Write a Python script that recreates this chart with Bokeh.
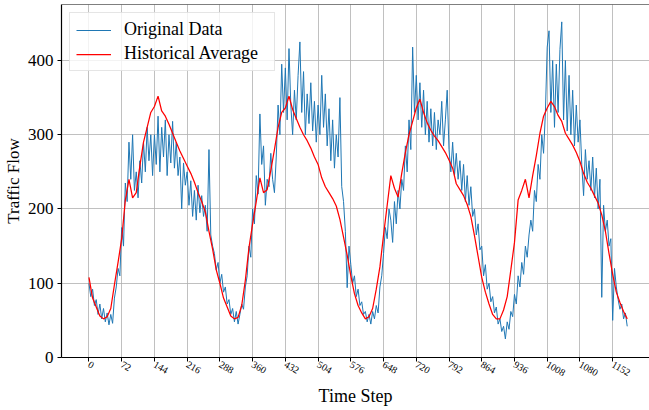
import math
from bokeh.plotting import figure
from bokeh.models import Range1d, FixedTicker, Span
from bokeh.embed import file_html
from bokeh.resources import INLINE

# ---- data ----
blue_step = 4   # time steps between consecutive original_data samples
original_data = [
    100, 82, 92, 70, 78, 58, 72, 52, 66, 48, 60, 44, 58, 46, 80, 95, 120, 110,
    175, 150, 235, 210, 290, 240, 300, 225, 250, 215, 265, 235, 290, 250, 310, 265, 300, 245,
    300, 260, 325, 250, 310, 270, 320, 245, 300, 262, 318, 255, 290, 245, 270, 200, 262, 232,
    250, 205, 238, 190, 225, 185, 232, 195, 218, 190, 205, 170, 280, 165, 150, 140, 118, 128,
    100, 112, 88, 95, 72, 78, 58, 66, 48, 62, 45, 58, 72, 65, 95, 110, 150, 135,
    200, 180, 245, 220, 328, 260, 285, 205, 240, 230, 275, 240, 222, 270, 340, 300, 395, 330,
    390, 320, 416, 340, 300, 360, 320, 380, 425, 330, 385, 300, 355, 315, 370, 305, 345, 290,
    340, 300, 380, 310, 355, 285, 335, 265, 320, 255, 300, 270, 350, 230, 210, 170, 94, 150,
    125, 100, 110, 82, 92, 70, 75, 58, 62, 48, 58, 45, 62, 52, 70, 60, 95, 110,
    140, 175, 160, 200, 185, 155, 210, 180, 225, 200, 240, 225, 285, 250, 320, 280, 418, 330,
    380, 320, 370, 310, 360, 300, 345, 290, 335, 285, 330, 280, 320, 300, 345, 285, 320, 360,
    280, 250, 290, 245, 275, 240, 265, 225, 260, 210, 245, 205, 230, 190, 200, 165, 180, 145,
    150, 110, 125, 92, 100, 75, 82, 60, 68, 45, 52, 35, 42, 25, 48, 38, 62, 55,
    85, 72, 110, 95, 128, 112, 150, 135, 165, 185, 170, 225, 210, 260, 240, 300, 275, 330,
    418, 440, 330, 400, 310, 395, 330, 415, 452, 320, 400, 305, 380, 300, 360, 285, 340, 290,
    320, 260, 218, 280, 240, 265, 225, 270, 215, 255, 200, 240, 81, 205, 170, 185, 150, 160,
    50, 120, 95, 78, 65, 72, 52, 60, 42,
]

red_step = 8    # time steps between consecutive historical_average samples
historical_average = [
    108, 80, 68, 56, 52, 55, 66, 98, 128, 160, 212, 240, 215, 222, 258, 290, 310, 330,
    338, 352, 332, 325, 314, 302, 290, 278, 268, 258, 248, 236, 222, 210, 196, 170, 146, 118,
    100, 80, 68, 56, 52, 54, 70, 104, 148, 180, 210, 242, 222, 226, 252, 280, 310, 330,
    336, 352, 334, 322, 310, 300, 292, 282, 270, 260, 242, 230, 222, 214, 204, 186, 162, 138,
    110, 86, 70, 60, 52, 55, 66, 92, 122, 165, 205, 245, 228, 216, 248, 276, 300, 318,
    336, 348, 330, 316, 306, 298, 292, 284, 276, 266, 255, 234, 226, 218, 206, 190, 164, 136,
    108, 88, 72, 58, 52, 52, 64, 82, 118, 155, 212, 225, 240, 215, 245, 272, 302, 325,
    336, 345, 338, 326, 318, 302, 294, 286, 276, 264, 248, 236, 228, 218, 208, 192, 170, 140,
    112, 88, 74, 62, 52,
]

x_ticks = [0, 72, 144, 216, 288, 360, 432, 504, 576, 648, 720, 792, 864, 936, 1008, 1080, 1152]
y_ticks = [0, 100, 200, 300, 400]
x_title = "Time Step"
y_title = "Traffic Flow"

x_blue = [i * blue_step for i in range(len(original_data))]
x_red = [i * red_step for i in range(len(historical_average))]

SERIF = "Liberation Serif"
Y_TOP = 475.4

p = figure(width=649, height=410, output_backend="svg", toolbar_location=None,
           x_range=Range1d(-60.4, 1233), y_range=Range1d(0, Y_TOP),
           min_border_left=60, min_border_right=0, min_border_top=4, min_border_bottom=53)

p.line(x_blue, original_data, line_color="#1f77b4", line_width=1, legend_label="Original Data")
p.line(x_red, historical_average, line_color="red", line_width=1.25, legend_label="Historical Average")

# top frame line (the right side of the frame is cut off in the reference)
p.add_layout(Span(location=Y_TOP, dimension="width", line_color="black", line_width=1.2))

p.xaxis.ticker = FixedTicker(ticks=x_ticks)
p.yaxis.ticker = FixedTicker(ticks=y_ticks)
p.xaxis.major_label_orientation = -math.pi / 6

for ax in (p.xaxis, p.yaxis):
    ax.axis_line_color = "black"
    ax.axis_line_width = 1.2
    ax.major_tick_line_color = "black"
    ax.major_tick_in = 0
    ax.major_tick_out = 4
    ax.minor_tick_in = 0
    ax.minor_tick_out = 0
    ax.major_label_text_font = SERIF
    ax.major_label_text_color = "black"
    ax.axis_label_text_font = SERIF
    ax.axis_label_text_font_style = "normal"
    ax.axis_label_text_color = "black"

p.xaxis.major_label_text_font_size = "10px"
p.xaxis.major_label_standoff = 2
p.xaxis.axis_label = x_title
p.xaxis.axis_label_text_font_size = "18px"
p.xaxis.axis_label_standoff = 3

p.yaxis.major_label_text_font_size = "17px"
p.yaxis.major_label_standoff = 4
p.yaxis.axis_label = y_title
p.yaxis.axis_label_text_font_size = "17px"
p.yaxis.axis_label_standoff = 2

for g in (p.xgrid, p.ygrid):
    g.grid_line_color = "#b0b0b0"
    g.grid_line_width = 0.8

p.outline_line_color = None
p.background_fill_color = "white"
p.border_fill_color = "white"

lg = p.legend[0]
lg.location = "top_left"
lg.margin = 8
lg.padding = 6
lg.spacing = 3
lg.glyph_width = 35
lg.glyph_height = 20
lg.label_height = 20
lg.label_width = 144
lg.label_standoff = 13
lg.label_text_font = SERIF
lg.label_text_font_size = "18px"
lg.label_text_color = "black"
lg.border_line_color = "#cccccc"
lg.border_line_width = 1
lg.background_fill_alpha = 0.8

open("out.html", "w").write(file_html(p, INLINE))
